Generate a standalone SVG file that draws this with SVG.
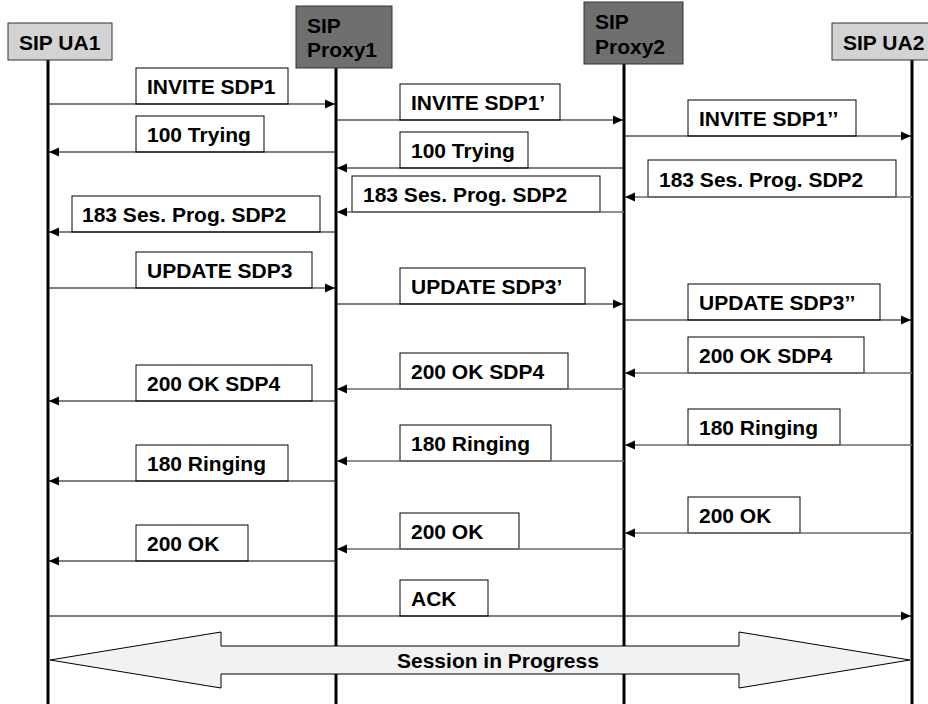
<svg xmlns="http://www.w3.org/2000/svg" width="928" height="704" viewBox="0 0 928 704">
  <style>
    text { font-family: "Liberation Sans", Arial, sans-serif; font-weight: bold; font-size: 21px; fill: #000; }
    .ua { fill: #d3d3d3; stroke: #333; stroke-width: 1; }
    .proxy { fill: #6f6f6f; stroke: #333; stroke-width: 1; }
    .life { stroke: #000; stroke-width: 3; }
    .lbl { fill: #fff; stroke: #000; stroke-width: 1; }
    .msg { stroke: #000; stroke-width: 1; fill: none; marker-end: url(#head); }
    .msg.g { stroke: #6a6a6a; stroke-width: 1.6; }
    .session { fill: #f2f2f2; stroke: #000; stroke-width: 1; }
  </style>
  <defs>
    <marker id="head" viewBox="0 0 10 10" refX="10" refY="5" markerUnits="userSpaceOnUse" markerWidth="10" markerHeight="10" orient="auto">
      <path d="M0,0.5 L10,5 L0,9.5 z" fill="#000"/>
    </marker>
  </defs>
  <rect width="928" height="704" fill="#fff"/>

  <!-- participants -->
  <g id="ua1">
    <line class="life" x1="48" y1="60" x2="48" y2="704"/>
    <rect class="ua" x="8" y="23" width="104" height="37"/>
    <text x="19" y="50">SIP UA1</text>
  </g>
  <g id="proxy1">
    <line class="life" x1="336" y1="68" x2="336" y2="704"/>
    <rect class="proxy" x="296" y="6" width="96" height="62"/>
    <text x="307" y="33">SIP</text>
    <text x="307" y="57">Proxy1</text>
  </g>
  <g id="proxy2">
    <line class="life" x1="624" y1="64" x2="624" y2="704"/>
    <rect class="proxy" x="584" y="2" width="99" height="62"/>
    <text x="595" y="29">SIP</text>
    <text x="595" y="54">Proxy2</text>
  </g>
  <g id="ua2">
    <line class="life" x1="912" y1="60" x2="912" y2="704"/>
    <rect class="ua" x="832" y="23" width="110" height="37"/>
    <text x="843" y="50">SIP UA2</text>
  </g>

  <!-- messages -->
  <g id="connectors">
    <rect class="lbl" x="136" y="68" width="152" height="36"/>
    <line class="msg" x1="48" y1="104" x2="335" y2="104"/>
    <text x="147" y="94">INVITE SDP1</text>

    <rect class="lbl" x="400" y="84" width="160" height="36"/>
    <line class="msg" x1="336" y1="120" x2="623" y2="120"/>
    <text x="411" y="110">INVITE SDP1’</text>

    <rect class="lbl" x="688" y="100" width="168" height="36"/>
    <line class="msg" x1="624" y1="136" x2="911" y2="136"/>
    <text x="699" y="126">INVITE SDP1’’</text>

    <rect class="lbl" x="136" y="116" width="128" height="36"/>
    <line class="msg" x1="336" y1="152" x2="49" y2="152"/>
    <text x="147" y="142">100 Trying</text>

    <rect class="lbl" x="400" y="132" width="128" height="36"/>
    <line class="msg" x1="624" y1="168" x2="337" y2="168"/>
    <text x="411" y="158">100 Trying</text>

    <rect class="lbl" x="648" y="160" width="248" height="37"/>
    <line class="msg g" x1="912" y1="197" x2="625" y2="197"/>
    <text x="659" y="187">183 Ses. Prog. SDP2</text>

    <rect class="lbl" x="352" y="176" width="248" height="36"/>
    <line class="msg g" x1="624" y1="212" x2="337" y2="212"/>
    <text x="363" y="202">183 Ses. Prog. SDP2</text>

    <rect class="lbl" x="72" y="196" width="248" height="36"/>
    <line class="msg" x1="336" y1="232" x2="49" y2="232"/>
    <text x="82" y="222">183 Ses. Prog. SDP2</text>

    <rect class="lbl" x="136" y="252" width="176" height="36"/>
    <line class="msg" x1="48" y1="288" x2="335" y2="288"/>
    <text x="147" y="278">UPDATE SDP3</text>

    <rect class="lbl" x="400" y="268" width="185" height="36"/>
    <line class="msg" x1="336" y1="304" x2="623" y2="304"/>
    <text x="411" y="294">UPDATE SDP3’</text>

    <rect class="lbl" x="688" y="284" width="192" height="36"/>
    <line class="msg" x1="624" y1="320" x2="911" y2="320"/>
    <text x="699" y="310">UPDATE SDP3’’</text>

    <rect class="lbl" x="688" y="337" width="176" height="36"/>
    <line class="msg g" x1="912" y1="373" x2="625" y2="373"/>
    <text x="699" y="363">200 OK SDP4</text>

    <rect class="lbl" x="400" y="353" width="168" height="36"/>
    <line class="msg g" x1="624" y1="389" x2="337" y2="389"/>
    <text x="411" y="379">200 OK SDP4</text>

    <rect class="lbl" x="136" y="365" width="176" height="36"/>
    <line class="msg" x1="336" y1="401" x2="49" y2="401"/>
    <text x="147" y="391">200 OK SDP4</text>

    <rect class="lbl" x="688" y="409" width="152" height="36"/>
    <line class="msg g" x1="912" y1="445" x2="625" y2="445"/>
    <text x="699" y="435">180 Ringing</text>

    <rect class="lbl" x="400" y="425" width="151" height="36"/>
    <line class="msg g" x1="624" y1="461" x2="337" y2="461"/>
    <text x="411" y="451">180 Ringing</text>

    <rect class="lbl" x="136" y="445" width="152" height="36"/>
    <line class="msg" x1="336" y1="481" x2="49" y2="481"/>
    <text x="147" y="471">180 Ringing</text>

    <rect class="lbl" x="688" y="497" width="112" height="36"/>
    <line class="msg g" x1="912" y1="533" x2="625" y2="533"/>
    <text x="699" y="523">200 OK</text>

    <rect class="lbl" x="400" y="513" width="119" height="36"/>
    <line class="msg g" x1="624" y1="549" x2="337" y2="549"/>
    <text x="411" y="539">200 OK</text>

    <rect class="lbl" x="136" y="525" width="112" height="36"/>
    <line class="msg" x1="336" y1="561" x2="49" y2="561"/>
    <text x="147" y="551">200 OK</text>

    <rect class="lbl" x="400" y="580" width="88" height="36"/>
    <line class="msg" x1="48" y1="616" x2="911" y2="616"/>
    <text x="411" y="606">ACK</text>

    <!-- double-headed session arrow -->
    <polygon class="session" points="50,660 221,632 221,646 739,646 739,632 910,660 739,688 739,674 221,674 221,688"/>
    <text x="397" y="668">Session in Progress</text>
  </g>
</svg>
